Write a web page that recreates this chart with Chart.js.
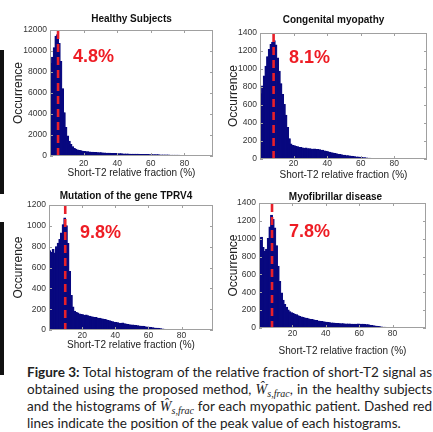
<!DOCTYPE html>
<html>
<head>
<meta charset="utf-8">
<script src="https://cdn.jsdelivr.net/npm/chart.js@4.4.1/dist/chart.umd.min.js"></script>
<style>
  body { margin: 0; width: 433px; height: 432px; background: #fff; position: relative; overflow: hidden; }
  canvas { position: absolute; }
  .edge { position: absolute; left: 0; background: #111; }
  #caption { position: absolute; left: 27px; top: 364px; width: 405px; font-family: Lato, "Open Sans", sans-serif; font-size: 13.5px; line-height: 17px; color: #222; }
  #caption .ln { text-align: justify; text-align-last: justify; }
  #caption .ln.last { text-align-last: left; }
  .w { font-family: "Liberation Serif", "DejaVu Serif", serif; font-style: italic; font-size: 14px; }
  .w sub { font-size: 10px; vertical-align: -3px; line-height: 0; }
</style>
</head>
<body>
<div class="edge" style="top:50px;width:4px;height:144px;"></div>
<div class="edge" style="top:222px;width:4px;height:153px;"></div>

<canvas id="c1" width="215" height="171" style="left:0px;top:10px;"></canvas>
<canvas id="c2" width="219" height="170" style="left:210px;top:13px;"></canvas>
<canvas id="c3" width="215" height="168" style="left:0px;top:185px;"></canvas>
<canvas id="c4" width="219" height="176" style="left:209px;top:183px;"></canvas>

<div id="caption">
  <div class="ln"><b>Figure 3:</b> Total histogram of the relative fraction of short-T2 signal as</div>
  <div class="ln">obtained using the proposed method, <span class="w">Ŵ<sub>s,frac</sub></span>, in the healthy subjects</div>
  <div class="ln">and the histograms of <span class="w">Ŵ<sub>s,frac</sub></span> for each myopathic patient. Dashed red</div>
  <div class="ln last">lines indicate the position of the peak value of each histograms.</div>
</div>

<script>
// histogram bins are 1% wide, first bin is 0-1%
const binWidth = 1;
const xTicks = [20, 40, 60, 80];

const healthyCounts = [
  8800, 9400, 10300, 11400, 11550, 10700, 9000, 6400, 4100, 2700,
  1900, 1400, 1080, 860, 710, 625, 565, 515, 480, 452,
  425, 402, 385, 368, 352, 341, 330, 318, 309, 298,
  290, 281, 270, 263, 256, 247, 240, 233, 224, 217,
  210, 205, 197, 192, 187, 180, 176, 169, 165, 160,
  157, 151, 148, 145, 139, 136, 133, 127, 124, 121,
  116, 113, 107, 104, 101, 95, 93, 87, 84, 81,
  76, 73, 67, 64, 61, 55, 52, 47, 44, 41,
  36, 32, 27, 23, 19, 14, 9, 4
];
const congenitalCounts = [
  725, 810, 920, 1030, 1135, 1215, 1270, 1295, 1312, 1265,
  1120, 975, 835, 715, 605, 485, 350, 225, 165, 150,
  145, 139, 134, 127, 126, 121, 117, 121, 114, 112,
  109, 107, 111, 104, 105, 101, 97, 96, 89, 86,
  80, 75, 69, 65, 60, 56, 51, 48, 45, 41,
  40, 36, 34, 31, 29, 26, 24, 22, 20, 18,
  16, 14, 12, 10, 8, 7, 5, 4, 3, 2,
  2, 1
];
const trpv4Counts = [
  760, 745, 772, 738, 798, 832, 868, 930, 1010, 1075,
  1000, 830, 560, 330, 220, 180, 168, 162, 153, 147,
  145, 139, 142, 135, 131, 127, 124, 119, 118, 113,
  112, 107, 104, 99, 97, 90, 87, 82, 78, 74,
  70, 68, 64, 61, 66, 60, 56, 52, 50, 48,
  46, 44, 42, 40, 38, 36, 34, 32, 29, 27,
  25, 23, 21, 19, 17, 15, 13, 11, 9, 7,
  5, 4, 3, 2, 1
];
const myofibrillarCounts = [
  1000, 1015, 900, 855, 880, 1000, 1130, 1262, 1215, 1120,
  920, 690, 520, 390, 310, 262, 232, 200, 182, 170,
  160, 152, 146, 135, 128, 122, 117, 112, 107, 102,
  98, 94, 90, 86, 82, 78, 75, 72, 69, 66,
  64, 61, 58, 56, 54, 52, 50, 49, 47, 46,
  46, 45, 44, 43, 43, 42, 42, 41, 42, 43,
  42, 41, 40, 38, 36, 34, 31, 28, 24, 21,
  19, 16, 13, 10, 8, 7, 5, 3, 1
];

const healthyYTicks = [0, 2000, 4000, 6000, 8000, 10000, 12000];
const congenitalYTicks = [0, 200, 400, 600, 800, 1000, 1200, 1400];
const trpv4YTicks = [0, 200, 400, 600, 800, 1000, 1200];
const myofibrillarYTicks = [0, 200, 400, 600, 800, 1000, 1200, 1400];

const titles = ['Healthy Subjects', 'Congenital myopathy', 'Mutation of the gene TPRV4', 'Myofibrillar disease'];
const peaks = [4.8, 8.1, 9.8, 7.8];
const xMaxes = [97, 99.5, 99, 100];

// per panel placement tweaks
const panels = [
  { id: 'c1', yw: 50, xh: 25, tickPad: 3, yTitlePad: 11, titleGap: 11, titleDx: 0, labelDx: 23, labelDy: 27 },
  { id: 'c2', yw: 50, xh: 24, tickPad: 0, yTitlePad: 16, titleGap: 13, titleDx: -10, labelDx: 29, labelDy: 25 },
  { id: 'c3', yw: 49, xh: 23, tickPad: 1, yTitlePad: 11, titleGap: 9, titleDx: -5, labelDx: 31, labelDy: 28 },
  { id: 'c4', yw: 50, xh: 31, tickPad: 1, yTitlePad: 17, titleGap: 6, titleDx: -7, labelDx: 30, labelDy: 29 }
];

const barColor = '#08087f';
Chart.defaults.font.family = '"Liberation Sans", Arial, sans-serif';

// matlab style box with inward ticks, peak line, percent label and title
const matlabAxes = {
  id: 'matlabAxes',
  afterDatasetsDraw(chart, args, opts) {
    const { ctx, chartArea: a, scales: { x, y } } = chart;
    ctx.save();

    const px = x.getPixelForValue(opts.peak);
    ctx.strokeStyle = '#e8202a';
    ctx.lineWidth = 2.6;
    ctx.setLineDash([8, 5]);
    ctx.beginPath();
    ctx.moveTo(px, a.top + 1);
    ctx.lineTo(px, a.bottom);
    ctx.stroke();
    ctx.setLineDash([]);

    ctx.strokeStyle = '#a0a0a0';
    ctx.lineWidth = 1;
    ctx.strokeRect(a.left + 0.5, a.top + 0.5, a.width - 1, a.height - 1);
    ctx.beginPath();
    x.ticks.forEach(t => {
      const p = Math.round(x.getPixelForValue(t.value)) + 0.5;
      ctx.moveTo(p, a.bottom); ctx.lineTo(p, a.bottom - 3);
      ctx.moveTo(p, a.top); ctx.lineTo(p, a.top + 3);
    });
    y.ticks.forEach(t => {
      const p = Math.round(y.getPixelForValue(t.value)) + 0.5;
      ctx.moveTo(a.left, p); ctx.lineTo(a.left + 3, p);
      ctx.moveTo(a.right, p); ctx.lineTo(a.right - 3, p);
    });
    ctx.stroke();

    ctx.fillStyle = '#ee1c24';
    ctx.font = 'bold 18px "Liberation Sans", Arial, sans-serif';
    ctx.textBaseline = 'middle';
    ctx.textAlign = 'left';
    ctx.fillText(opts.label, a.left + opts.labelDx, a.top + opts.labelDy);

    ctx.fillStyle = '#111';
    ctx.font = 'bold 10px "Liberation Sans", Arial, sans-serif';
    ctx.textAlign = 'center';
    ctx.fillText(opts.title, (a.left + a.right) / 2 + opts.titleDx, a.top - opts.titleGap);
    ctx.restore();
  }
};

function histChart(i, counts, yTicks) {
  const P = panels[i];
  const points = counts.map((v, k) => ({ x: (k + 0.5) * binWidth, y: v }));
  return new Chart(document.getElementById(P.id), {
    type: 'bar',
    data: {
      datasets: [{
        data: points,
        backgroundColor: barColor,
        // same-colour border so inflateAmount closes the seams between bins
        borderColor: barColor,
        borderWidth: 0.5,
        borderSkipped: 'start',
        barPercentage: 1,
        categoryPercentage: 1,
        inflateAmount: 0.6
      }]
    },
    options: {
      responsive: false,
      animation: false,
      layout: { padding: { top: 20, right: 2, left: 0, bottom: 0 } },
      plugins: {
        legend: { display: false },
        tooltip: { enabled: false },
        matlabAxes: {
          peak: peaks[i], label: peaks[i] + '%', title: titles[i],
          labelDx: P.labelDx, labelDy: P.labelDy, titleGap: P.titleGap, titleDx: P.titleDx
        }
      },
      scales: {
        x: {
          type: 'linear', offset: false, min: 0, max: xMaxes[i],
          grid: { display: false, drawTicks: false }, border: { display: false },
          afterBuildTicks: s => { s.ticks = xTicks.map(v => ({ value: v })); },
          afterFit: s => { s.height = P.xh; },
          ticks: { padding: P.tickPad, color: '#333', font: { size: 8.5 }, autoSkip: false, maxRotation: 0, callback: v => String(v) },
          title: { display: true, text: 'Short-T2 relative fraction (%)', color: '#222', font: { size: 10 }, padding: { top: 0, bottom: 2 } }
        },
        y: {
          min: 0, max: yTicks[yTicks.length - 1],
          grid: { display: false, drawTicks: false }, border: { display: false },
          afterBuildTicks: s => { s.ticks = yTicks.map(v => ({ value: v })); },
          afterFit: s => { s.width = P.yw; },
          ticks: { padding: 3, color: '#333', font: { size: 8.5 }, autoSkip: false, callback: v => String(v) },
          title: { display: true, text: 'Occurrence', color: '#222', font: { size: 12 }, padding: { top: P.yTitlePad, bottom: 0 } }
        }
      }
    },
    plugins: [matlabAxes]
  });
}

histChart(0, healthyCounts, healthyYTicks);
histChart(1, congenitalCounts, congenitalYTicks);
histChart(2, trpv4Counts, trpv4YTicks);
histChart(3, myofibrillarCounts, myofibrillarYTicks);
</script>
</body>
</html>
